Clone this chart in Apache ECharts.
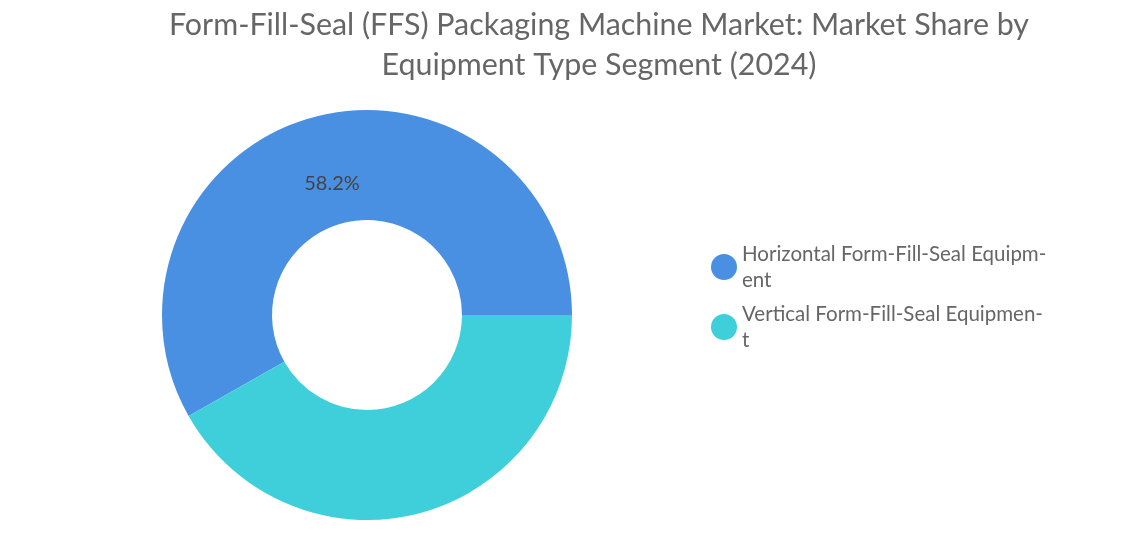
<!DOCTYPE html>
<html><head><meta charset="utf-8">
<script src="https://cdn.jsdelivr.net/npm/echarts@6/dist/echarts.min.js"></script>
<style>html,body{margin:0;background:#fff}#c{width:1137px;height:556px}</style>
</head><body><div id="c"></div>
<script>
var categories = ['Horizontal Form-Fill-Seal Equipment', 'Vertical Form-Fill-Seal Equipment'];
var legendText = ['Horizontal Form-Fill-Seal Equipm-\nent', 'Vertical Form-Fill-Seal Equipmen-\nt'];
var shares = [58.2, 41.8];
var colors = ['#4a90e2', '#3ecfdb'];

var chart = echarts.init(document.getElementById('c'));
chart.setOption({
    backgroundColor: '#fff',
    color: colors,
    title: {
        text: 'Form-Fill-Seal (FFS) Packaging Machine Market: Market Share by\nEquipment Type Segment (2024)',
        left: 594, top: 0,
        textAlign: 'center',
        textStyle: { fontFamily: 'Lato', fontWeight: 'normal', fontSize: 30.4, color: '#666', lineHeight: 40 }
    },
    legend: {
        orient: 'vertical', left: 706, top: 236, itemGap: 8,
        icon: 'circle', itemWidth: 26, itemHeight: 26,
        textStyle: { fontFamily: 'Lato', fontSize: 20.5, color: '#666', lineHeight: 26 },
        formatter: function (n) { return legendText[categories.indexOf(n)]; }
    },
    series: [{
        type: 'pie',
        center: [367, 315], radius: [95, 205],
        startAngle: 0, clockwise: false,
        label: { position: 'inside', fontFamily: 'Lato', fontSize: 20, color: '#444', offset: [4, 16],
                 formatter: function (p) { return p.dataIndex === 0 ? p.value + '%' : ''; } },
        labelLine: { show: false },
        data: categories.map(function (c, i) { return { name: c, value: shares[i] }; })
    }]
});
</script></body></html>
